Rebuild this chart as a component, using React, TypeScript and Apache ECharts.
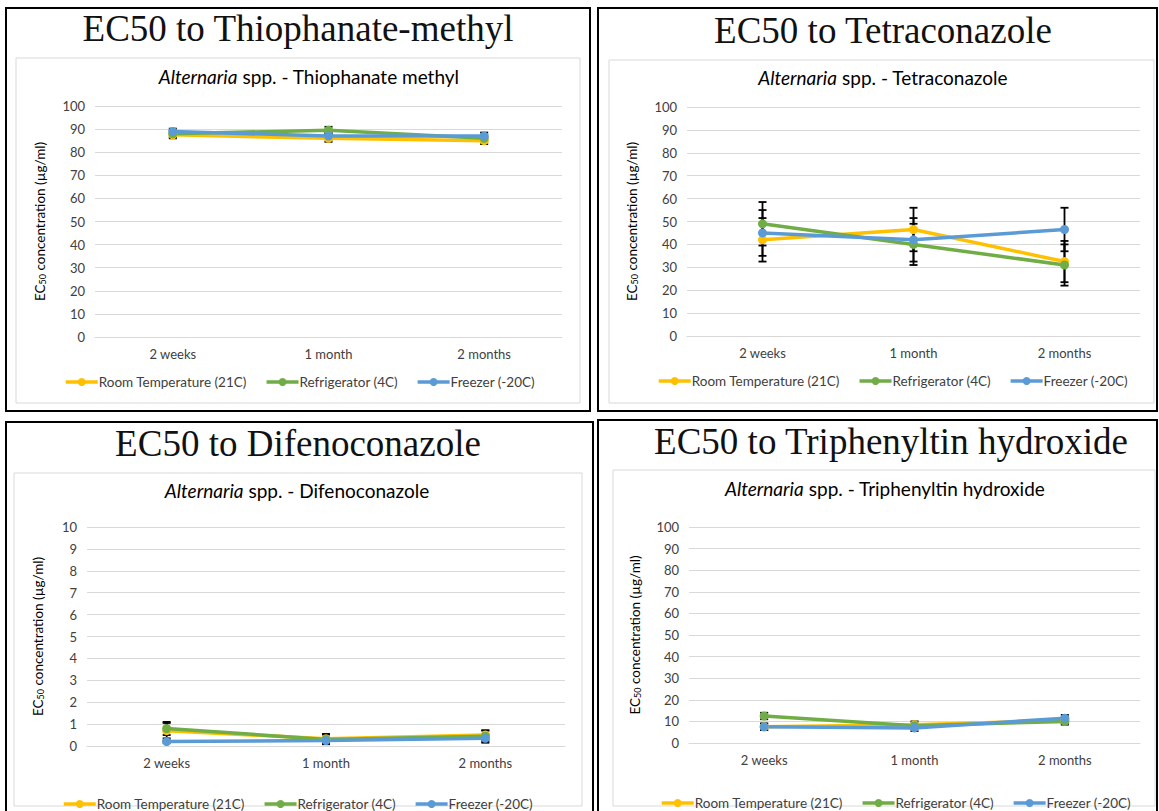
import React, { useEffect, useRef } from "react";
import * as echarts from "echarts";

// ---------- DATA ----------
const categories = ["2 weeks", "1 month", "2 months"];
const seriesNames = ["Room Temperature (21C)", "Refrigerator (4C)", "Freezer (-20C)"];
const seriesColors = ["#FFC000", "#70AD47", "#5B9BD5"];

// Thiophanate-methyl
const thioRoom = [87.5, 86, 85];
const thioRoomErr = [1.5, 1.5, 1.5];
const thioFridge = [88, 89.5, 86];
const thioFridgeErr = [1.5, 1.5, 1.5];
const thioFreezer = [89, 87, 87];
const thioFreezerErr = [1.2, 1.5, 1.5];

// Tetraconazole
const tetraRoom = [42, 46.5, 32.5];
const tetraRoomErr = [9.5, 9.5, 9];
const tetraFridge = [49, 40, 31];
const tetraFridgeErr = [9.5, 9, 9];
const tetraFreezer = [45, 42, 46.5];
const tetraFreezerErr = [10, 9.5, 9.5];

// Difenoconazole
const difenoRoom = [0.7, 0.33, 0.5];
const difenoRoomErr = [0.35, 0.22, 0.22];
const difenoFridge = [0.8, 0.3, 0.45];
const difenoFridgeErr = [0.3, 0.22, 0.25];
const difenoFreezer = [0.2, 0.25, 0.35];
const difenoFreezerErr = [0.05, 0.05, 0.2];

// Triphenyltin hydroxide
const triRoom = [7.5, 8.5, 10.5];
const triRoomErr = [1.5, 1.5, 1.5];
const triFridge = [12.5, 8, 10];
const triFridgeErr = [1.5, 1, 1.5];
const triFreezer = [7.5, 7, 11.5];
const triFreezerErr = [1.5, 1.5, 1.5];

const yTicks100 = { min: 0, max: 100, interval: 10 };
const yTicks10 = { min: 0, max: 10, interval: 1 };

// ---------- LAYOUT ----------
const panels = [
  {
    title: "EC50 to Thiophanate-methyl",
    sub: "Thiophanate methyl",
    values: [thioRoom, thioFridge, thioFreezer],
    errors: [thioRoomErr, thioFridgeErr, thioFreezerErr],
    ticks: yTicks100,
    border: [6, 8, 584, 403],
    inner: [16, 58, 564, 345],
    titlePos: [298, 28],
    subPos: [309, 76],
    grid: { left: 95, top: 106, width: 467, height: 231 },
    legend: { left: 64, top: 375 },
    nameGap: 48,
  },
  {
    title: "EC50 to Tetraconazole",
    sub: "Tetraconazole",
    values: [tetraRoom, tetraFridge, tetraFreezer],
    errors: [tetraRoomErr, tetraFridgeErr, tetraFreezerErr],
    ticks: yTicks100,
    border: [598, 8, 559, 403],
    inner: [609, 60, 545, 343],
    titlePos: [883, 30],
    subPos: [883, 77],
    grid: { left: 687, top: 107, width: 453, height: 229 },
    legend: { left: 657, top: 374 },
    nameGap: 48,
  },
  {
    title: "EC50 to Difenoconazole",
    sub: "Difenoconazole",
    values: [difenoRoom, difenoFridge, difenoFreezer],
    errors: [difenoRoomErr, difenoFridgeErr, difenoFreezerErr],
    ticks: yTicks10,
    border: [6, 422, 587, 400],
    inner: [14, 473, 568, 333],
    titlePos: [298, 443],
    subPos: [297, 490],
    grid: { left: 87, top: 527, width: 478, height: 219 },
    legend: { left: 62, top: 797 },
    nameGap: 42,
  },
  {
    title: "EC50 to Triphenyltin hydroxide",
    sub: "Triphenyltin hydroxide",
    values: [triRoom, triFridge, triFreezer],
    errors: [triRoomErr, triFridgeErr, triFreezerErr],
    ticks: yTicks100,
    border: [598, 420, 559, 400],
    inner: [613, 470, 542, 336],
    titlePos: [891, 441],
    subPos: [885, 488],
    grid: { left: 689, top: 527, width: 451, height: 216 },
    legend: { left: 660, top: 796 },
    nameGap: 47,
  },
];

const FONT = "Lato";
const TEXT = "#404040";

function buildOption() {
  const grids: any[] = [];
  const xAxes: any[] = [];
  const yAxes: any[] = [];
  const series: any[] = [];
  const legends: any[] = [];
  const graphics: any[] = [];

  panels.forEach((p, gi) => {
    graphics.push({
      type: "rect",
      z: -10,
      shape: { x: p.border[0], y: p.border[1], width: p.border[2], height: p.border[3] },
      style: { fill: "#fff", stroke: "#000", lineWidth: 2 },
    });
    graphics.push({
      type: "rect",
      z: -9,
      shape: { x: p.inner[0], y: p.inner[1], width: p.inner[2], height: p.inner[3] },
      style: { fill: "#fff", stroke: "#d9d9d9", lineWidth: 1 },
    });
    graphics.push({
      type: "text",
      x: p.titlePos[0],
      y: p.titlePos[1],
      style: {
        text: p.title,
        font: "37px 'Liberation Serif'",
        fill: "#111",
        textAlign: "center",
        textVerticalAlign: "middle",
      },
    });
    graphics.push({
      type: "text",
      x: p.subPos[0],
      y: p.subPos[1],
      style: {
        text: "{i|Alternaria} spp. - " + p.sub,
        fill: "#000",
        font: "19px " + FONT,
        textAlign: "center",
        textVerticalAlign: "middle",
        rich: {
          i: { fontStyle: "italic", fontSize: 19, fontFamily: FONT, fill: "#000" },
        },
      },
    });

    grids.push({ ...p.grid, containLabel: false });
    xAxes.push({
      type: "category",
      gridIndex: gi,
      data: categories,
      boundaryGap: true,
      axisLine: { show: true, lineStyle: { color: "#d9d9d9", width: 1 } },
      axisTick: { show: false },
      axisLabel: { color: TEXT, fontFamily: FONT, fontSize: 13, margin: 10 },
      splitLine: { show: false },
    });
    yAxes.push({
      type: "value",
      gridIndex: gi,
      min: p.ticks.min,
      max: p.ticks.max,
      interval: p.ticks.interval,
      axisLine: { show: false },
      axisTick: { show: false },
      axisLabel: { color: TEXT, fontFamily: FONT, fontSize: 13, margin: 10 },
      splitLine: { show: true, lineStyle: { color: "#d9d9d9", width: 1 } },
      name: "EC{sub|50} concentration (µg/ml)",
      nameLocation: "middle",
      nameGap: p.nameGap,
      nameRotate: 90,
      nameTextStyle: {
        color: "#000",
        fontFamily: FONT,
        fontSize: 13.5,
        rich: {
          sub: { fontSize: 9, fontFamily: FONT, color: "#000", verticalAlign: "bottom", padding: [5, 0, 0, 0] },
        },
      },
    });

    // error bars first (below lines)
    p.values.forEach((vals, si) => {
      const errs = p.errors[si];
      series.push({
        type: "custom",
        xAxisIndex: gi,
        yAxisIndex: gi,
        z: 1,
        encode: { x: 0, y: [1, 2] },
        data: vals.map((v, i) => [i, v - errs[i], v + errs[i]]),
        renderItem: (params: any, api: any) => {
          const idx = api.value(0);
          const lo = api.coord([idx, api.value(1)]);
          const hi = api.coord([idx, api.value(2)]);
          const cw = 4;
          const st = { stroke: "#000", lineWidth: 1.8 };
          return {
            type: "group",
            children: [
              { type: "line", shape: { x1: lo[0], y1: lo[1], x2: hi[0], y2: hi[1] }, style: st },
              { type: "line", shape: { x1: lo[0] - cw, y1: lo[1], x2: lo[0] + cw, y2: lo[1] }, style: st },
              { type: "line", shape: { x1: hi[0] - cw, y1: hi[1], x2: hi[0] + cw, y2: hi[1] }, style: st },
            ],
          };
        },
        silent: true,
      });
    });

    p.values.forEach((vals, si) => {
      series.push({
        type: "line",
        name: seriesNames[si],
        xAxisIndex: gi,
        yAxisIndex: gi,
        z: 3,
        data: vals,
        symbol: "circle",
        symbolSize: 9,
        color: seriesColors[si],
        lineStyle: { width: 3.5, color: seriesColors[si] },
        itemStyle: { color: seriesColors[si] },
      });
    });

    legends.push({
      left: p.legend.left,
      top: p.legend.top,
      orient: "horizontal",
      data: seriesNames,
      itemWidth: 32,
      itemHeight: 10,
      itemGap: 18,
      padding: 0,
      selectedMode: false,
      lineStyle: { width: 3.5 },
      textStyle: { color: TEXT, fontFamily: FONT, fontSize: 13.5, padding: [0, 0, 0, -4] },
    });
  });

  return {
    animation: false,
    backgroundColor: "#fff",
    textStyle: { fontFamily: FONT },
    grid: grids,
    xAxis: xAxes,
    yAxis: yAxes,
    legend: legends,
    series,
    graphic: graphics,
  };
}

export default function App() {
  const ref = useRef<HTMLDivElement>(null);
  useEffect(() => {
    if (!ref.current) return;
    const chart = echarts.init(ref.current, undefined, { renderer: "svg" });
    chart.setOption(buildOption() as any);
    return () => chart.dispose();
  }, []);
  return (
    <div
      ref={ref}
      style={{ position: "fixed", left: 0, top: 0, width: 1159, height: 811, background: "#fff" }}
    />
  );
}
